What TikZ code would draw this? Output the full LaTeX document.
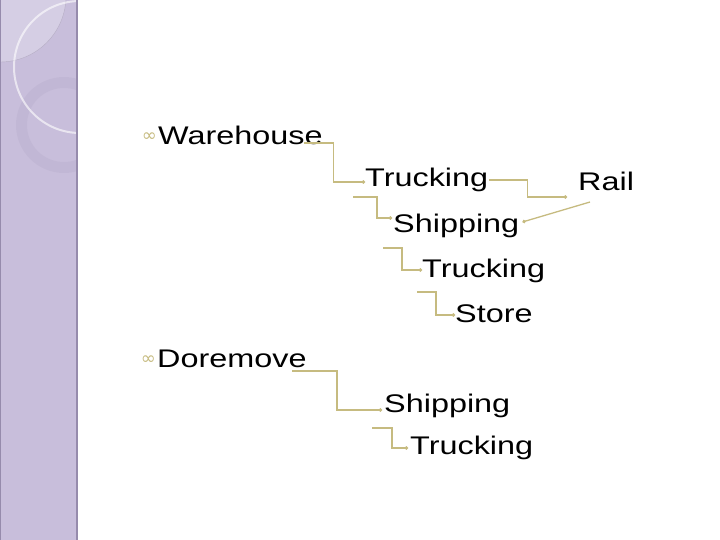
\documentclass[tikz,border=0pt]{standalone}
\usepackage{fontspec}
\newfontfamily\slidefont[FakeStretch=1.27]{Liberation Sans}
\newfontfamily\symfont{DejaVu Sans}
\usetikzlibrary{arrows.meta,calc}

\definecolor{connTan}{RGB}{198,187,128}
\definecolor{stripLilac}{RGB}{200,190,219}
\definecolor{stripEdge}{RGB}{150,139,172}

\begin{document}
\begin{tikzpicture}[
  x=1pt, y=-1pt,
  every node/.style={inner sep=0pt, anchor=base west},
  item/.style={font=\slidefont\fontsize{25.5}{30}\selectfont},
  bulletmark/.style={font=\symfont\fontsize{18}{18}\selectfont, text=connTan, anchor=base east},
  conn/.style={draw=connTan, line width=1.3pt, -{Circle[length=3.4pt]}}
]

\useasboundingbox (0,0) rectangle (720,540);

% lilac strip on the left, with its rings
\fill[stripLilac] (0,0) rectangle (78,540);
\begin{scope}
  \clip (0,0) rectangle (76,540);
  \fill[white, opacity=0.25] (0,-4) circle (66pt);
  \draw[stripEdge!70, line width=0.4pt] (0,-4) circle (66pt);
  \fill[stripEdge, opacity=0.12, even odd rule] (64,125) circle (48pt) (64,125) circle (37pt);
  \draw[white, opacity=0.6, line width=2pt] (80,67) circle (66pt);
\end{scope}
\draw[stripEdge, line width=2.5pt] (77,0) -- (77,540);
\draw[stripEdge, line width=1pt] (0,0) -- (0,540) -- (78,540);

% first list: Warehouse
\node[item] (warehouse) at (158,145) {Warehouse};
\node[bulletmark] (bulletA) at ($(warehouse.base west)+(-1,-3)$) {∞};
\node[item] (truckA)   at (365,187) {Trucking};
\node[item] (rail)     at (578,191) {Rail};
\node[item] (shipA)    at (393,233) {Shipping};
\node[item] (truckB)   at (422,277) {Trucking};
\node[item] (store)    at (455,322) {Store};

% second list: Doremove
\node[item] (doremove) at (157,367) {Doremove};
\node[bulletmark] (bulletB) at ($(doremove.base west)+(-1,-3)$) {∞};
\node[item] (shipB)    at (384,412) {Shipping};
\node[item] (truckC)   at (410,454) {Trucking};

% elbow connectors
\draw[conn] ($(warehouse.base east)+(-19,-2)$) -- ++(30,0) |- ($(truckA.base west)+(0,-5)$);
\draw[conn] ($(truckA.base east)+(1,-7)$) -- ++(38,0) |- ($(rail.base west)+(-11,6)$);
\draw[conn] ($(rail.base west)+(12,11)$) -- ($(shipA.base east)+(3,-11)$);
\draw[conn] ($(truckA.base west)+(-12,10)$) -- ++(24,0) |- ($(shipA.base west)+(-1,-15)$);
\draw[conn] ($(shipA.base west)+(-10,15)$) -- ++(19,0) |- ($(truckB.base west)+(0,-7)$);
\draw[conn] ($(truckB.base west)+(-5,15)$) -- ++(19,0) |- ($(store.base west)+(0,-7)$);
\draw[conn] ($(doremove.base west)+(135,4)$) -- ++(45,0) |- ($(shipB.base west)+(-2,-2)$);
\draw[conn] ($(shipB.base west)+(-12,16)$) -- ++(20,0) |- ($(truckC.base west)+(-2,-6)$);

\end{tikzpicture}
\end{document}
